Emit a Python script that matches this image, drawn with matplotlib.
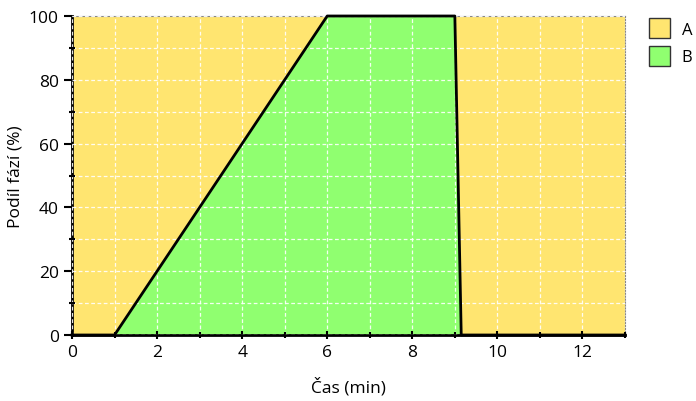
import matplotlib.pyplot as plt
from matplotlib.patches import Patch
from matplotlib.ticker import MultipleLocator

plt.rcParams['font.family'] = ['Open Sans', 'DejaVu Sans']

# time points (min) and phase B share (%)
cas = [0, 1, 6, 9, 9.15, 13]
podil_b = [0, 0, 100, 100, 0, 0]
podil_a = [100 - v for v in podil_b]

yellow = "#ffe570"
green = "#90ff70"

fig = plt.figure(figsize=(6.96, 4.02), dpi=100)
ax = fig.add_axes([72/696, 1 - 336/402, (625-72)/696, (336-17)/402])

ax.stackplot(cas, podil_b, podil_a, colors=[green, yellow], zorder=1)
ax.plot(cas, podil_b, color="black", lw=2, zorder=3, clip_on=False)

ax.set_xlim(0, 13)
ax.set_ylim(0, 100)
ax.xaxis.set_major_locator(MultipleLocator(2))
ax.xaxis.set_minor_locator(MultipleLocator(1))
ax.yaxis.set_major_locator(MultipleLocator(20))
ax.yaxis.set_minor_locator(MultipleLocator(10))
ax.grid(True, which="both", color="white", ls=(0, (3, 2)), lw=0.9, alpha=0.9, zorder=2)
ax.set_axisbelow(False)

ax.spines["left"].set_linewidth(2)
ax.spines["bottom"].set_linewidth(2)
ax.spines["top"].set_color("#888888")
ax.spines["top"].set_linewidth(0.8)
ax.spines["right"].set_color("#888888")
ax.spines["right"].set_linestyle(":")
ax.tick_params(which="both", direction="inout", width=1.5, labelsize=12.5)
ax.tick_params(which="major", length=6)
ax.tick_params(which="minor", length=4)
ax.tick_params(axis="y", direction="out")

ax.set_xlabel("Čas (min)", fontsize=12.5, labelpad=12)
ax.set_ylabel("Podíl fází (%)", fontsize=12.5, labelpad=4)

handles = [Patch(facecolor=yellow, edgecolor="#333333", label="A"),
           Patch(facecolor=green, edgecolor="#333333", label="B")]
fig.legend(handles=handles, loc="upper left", bbox_to_anchor=(644/696, 1 - 14/402),
           frameon=False, fontsize=12, handlelength=1.25, handleheight=1.5,
           handletextpad=0.7, labelspacing=0.45, borderaxespad=0, borderpad=0.3)

fig.savefig("out.png", dpi=100)
